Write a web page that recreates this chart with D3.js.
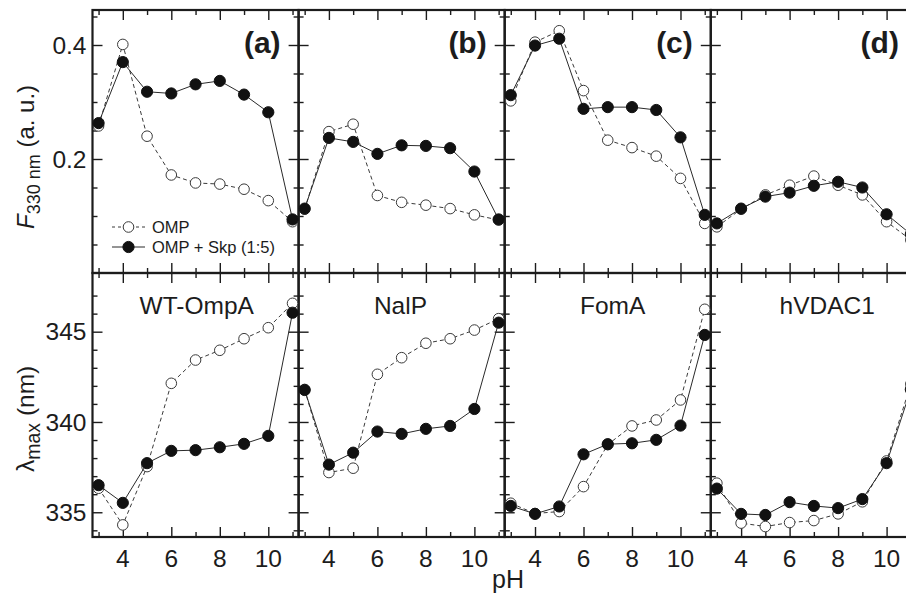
<!DOCTYPE html>
<html>
<head>
<meta charset="utf-8">
<script src="https://cdn.jsdelivr.net/npm/d3@7"></script>
<style>
  html, body { margin: 0; padding: 0; background: #fff; }
  svg { display: block; font-family: "Liberation Sans", Arial, Helvetica, sans-serif; }
</style>
</head>
<body>
<svg id="chart" width="906" height="597"></svg>
<script>
// pH values sampled for every protein
const pH = [3, 4, 5, 6, 7, 8, 9, 10, 11];
const panelTags = ["(a)", "(b)", "(c)", "(d)"];
const proteins = ["WT-OmpA", "NalP", "FomA", "hVDAC1"];
// where each protein name sits, in pH units
const nameAnchorPH = [7.05, 6.95, 7.2, 7.55];

// Fluorescence at 330 nm (a. u.), one row per protein
const fOMP = [
  [0.258, 0.401, 0.240, 0.172, 0.158, 0.156, 0.147, 0.127, 0.090],
  [0.112, 0.248, 0.261, 0.136, 0.124, 0.119, 0.113, 0.102, 0.093],
  [0.302, 0.405, 0.425, 0.320, 0.233, 0.220, 0.205, 0.166, 0.087],
  [0.081, 0.112, 0.137, 0.154, 0.170, 0.154, 0.137, 0.090, 0.058]
];
const fOMPSkp = [
  [0.263, 0.370, 0.318, 0.315, 0.331, 0.337, 0.313, 0.282, 0.094],
  [0.113, 0.237, 0.230, 0.209, 0.224, 0.223, 0.219, 0.178, 0.094],
  [0.312, 0.399, 0.411, 0.288, 0.291, 0.291, 0.286, 0.238, 0.102],
  [0.087, 0.113, 0.134, 0.141, 0.153, 0.160, 0.150, 0.103, 0.068]
];
// Emission maximum (nm), one row per protein
const lamOMP = [
  [336.33, 334.30, 337.53, 342.14, 343.43, 343.97, 344.61, 345.22, 346.57],
  [341.80, 337.20, 337.44, 342.64, 343.56, 344.36, 344.61, 345.09, 345.72],
  [335.50, 334.93, 335.04, 336.42, 338.75, 339.78, 340.11, 341.22, 346.24],
  [336.61, 334.40, 334.21, 334.43, 334.54, 334.91, 335.58, 337.84, 342.10]
];
const lamOMPSkp = [
  [336.50, 335.52, 337.72, 338.40, 338.44, 338.60, 338.79, 339.23, 346.05],
  [341.77, 337.64, 338.30, 339.47, 339.34, 339.62, 339.78, 340.72, 345.50],
  [335.35, 334.91, 335.32, 338.21, 338.77, 338.82, 339.01, 339.80, 344.82],
  [336.31, 334.91, 334.85, 335.56, 335.35, 335.23, 335.73, 337.72, 341.80]
];

// tick values
const xMajor = [4, 6, 8, 10];
const xMinor = [3, 5, 7, 9, 11];
const fMajor = [0.2, 0.4];
const fMinor = [0.05, 0.1, 0.15, 0.25, 0.3, 0.35, 0.45];
const lamMajor = [335, 340, 345];
const lamMinor = [334, 336, 337, 338, 339, 341, 342, 343, 344, 346, 347];

const legendLabels = ["OMP", "OMP + Skp (1:5)"];

// ---- layout ----
const svg = d3.select("#chart");
const ink = "#1c1c1c";
const left0 = 92.5, panelW = 206.1;
const yTopEdge = 10, yMid = 273, yBottom = 537;
const fontTick = 24.5;

const xScales = proteins.map((_, i) =>
  d3.scaleLinear().domain([2.75, 11.25]).range([left0 + i * panelW, left0 + (i + 1) * panelW]));
const yF = d3.scaleLinear().domain([0, 0.4614]).range([yMid, yTopEdge]);
const yL = d3.scaleLinear().domain([333.63, 348.25]).range([yBottom, yMid]);

function tickAxis(axisFn, scale, values, size, tx, ty) {
  const g = svg.append("g")
    .attr("transform", `translate(${tx},${ty})`)
    .call(axisFn(scale).tickValues(values).tickSize(-size).tickSizeOuter(0).tickFormat(""));
  g.select(".domain").remove();
  g.selectAll(".tick line").attr("stroke", ink).attr("stroke-width", 1.4);
  g.selectAll(".tick text").remove();
  return g;
}

// ticks for every panel, pointing inward on all four sides
xScales.forEach((x, i) => {
  const [x0, x1] = x.range();
  // x ticks: top of upper row, both sides of middle boundary, bottom of lower row
  [[d3.axisTop, yTopEdge], [d3.axisBottom, yMid], [d3.axisTop, yMid], [d3.axisBottom, yBottom]].forEach(([fn, y]) => {
    tickAxis(fn, x, xMajor, 10, 0, y);
    tickAxis(fn, x, xMinor, 5, 0, y);
  });
  // y ticks on left and right sides of each panel
  [[d3.axisLeft, x0], [d3.axisRight, x1]].forEach(([fn, xx]) => {
    tickAxis(fn, yF, fMajor, 10, xx, 0);
    tickAxis(fn, yF, fMinor, 5, xx, 0);
    tickAxis(fn, yL, lamMajor, 10, xx, 0);
    tickAxis(fn, yL, lamMinor, 5, xx, 0);
  });
});

// panel frames
xScales.forEach(x => {
  const [x0, x1] = x.range();
  [[yTopEdge, yMid], [yMid, yBottom]].forEach(([a, b]) => {
    svg.append("rect")
      .attr("x", x0).attr("y", a).attr("width", x1 - x0).attr("height", b - a)
      .attr("fill", "none").attr("stroke", ink).attr("stroke-width", 2.2);
  });
});

// data series
function drawSeries(x, y, vals, open) {
  const pts = pH.map((p, k) => [x(p), y(vals[k])]);
  svg.append("path")
    .attr("d", d3.line()(pts))
    .attr("fill", "none")
    .attr("stroke", open ? "#3a3a3a" : "#2a2a2a")
    .attr("stroke-width", 1)
    .attr("stroke-dasharray", open ? "4,3" : null);
  svg.append("g").selectAll("circle").data(pts).join("circle")
    .attr("cx", d => d[0]).attr("cy", d => d[1])
    .attr("r", open ? 5.3 : 5.6)
    .attr("fill", open ? "#fff" : "#111")
    .attr("stroke", open ? "#3a3a3a" : "#111")
    .attr("stroke-width", 1);
}

xScales.forEach((x, i) => {
  drawSeries(x, yF, fOMP[i], true);
  drawSeries(x, yF, fOMPSkp[i], false);
  drawSeries(x, yL, lamOMP[i], true);
  drawSeries(x, yL, lamOMPSkp[i], false);
});

// panel tags and protein names
xScales.forEach((x, i) => {
  svg.append("text")
    .attr("x", x.range()[1] - 18).attr("y", 53)
    .attr("text-anchor", "end")
    .attr("font-size", 30).attr("font-weight", "bold").attr("fill", ink)
    .text(panelTags[i]);
  svg.append("text")
    .attr("x", x(nameAnchorPH[i])).attr("y", 313.5)
    .attr("text-anchor", "middle")
    .attr("font-size", 24.5).attr("fill", ink)
    .text(proteins[i]);
  // x tick labels
  svg.append("g").selectAll("text").data(xMajor).join("text")
    .attr("x", d => x(d)).attr("y", 566.5)
    .attr("text-anchor", "middle")
    .attr("font-size", fontTick).attr("fill", ink)
    .text(d => d);
});

// y tick labels on the leftmost panel
svg.append("g").selectAll("text").data(fMajor).join("text")
  .attr("x", left0 - 6).attr("y", d => yF(d) + 8.6)
  .attr("text-anchor", "end").attr("font-size", fontTick).attr("fill", ink)
  .text(d => d3.format(".1f")(d));
svg.append("g").selectAll("text").data(lamMajor).join("text")
  .attr("x", left0 - 6).attr("y", d => yL(d) + 8.6)
  .attr("text-anchor", "end").attr("font-size", fontTick).attr("fill", ink)
  .text(d => d);

// axis titles
svg.append("text")
  .attr("x", 508).attr("y", 588)
  .attr("text-anchor", "middle").attr("font-size", 25).attr("fill", ink)
  .text("pH");

const yt1 = svg.append("text")
  .attr("transform", "translate(34,229) rotate(-90)")
  .attr("font-size", 24).attr("fill", ink);
yt1.append("tspan").attr("font-style", "italic").text("F");
yt1.append("tspan").attr("font-size", 18).attr("dy", 6).text("330 nm");
yt1.append("tspan").attr("dy", -6).text(" (a. u.)");

const yt2 = svg.append("text")
  .attr("transform", "translate(34,472) rotate(-90)")
  .attr("font-size", 24.5).attr("fill", ink);
yt2.append("tspan").text("λ");
yt2.append("tspan").attr("font-size", 19.5).attr("dy", 6).text("max");
yt2.append("tspan").attr("dy", -6).text(" (nm)");

// legend in panel (a)
const legend = svg.append("g");
[true, false].forEach((open, k) => {
  const cy = 227 + k * 20;
  legend.append("line")
    .attr("x1", 112).attr("x2", 145).attr("y1", cy).attr("y2", cy)
    .attr("stroke", open ? "#3a3a3a" : "#2a2a2a").attr("stroke-width", 1)
    .attr("stroke-dasharray", open ? "3,3" : null);
  legend.append("circle")
    .attr("cx", 128.5).attr("cy", cy).attr("r", open ? 5.3 : 5.6)
    .attr("fill", open ? "#fff" : "#111").attr("stroke", open ? "#3a3a3a" : "#111");
  legend.append("text")
    .attr("x", 152).attr("y", cy + 6)
    .attr("font-size", 16.5).attr("fill", ink)
    .text(legendLabels[k]);
});
</script>
</body>
</html>
